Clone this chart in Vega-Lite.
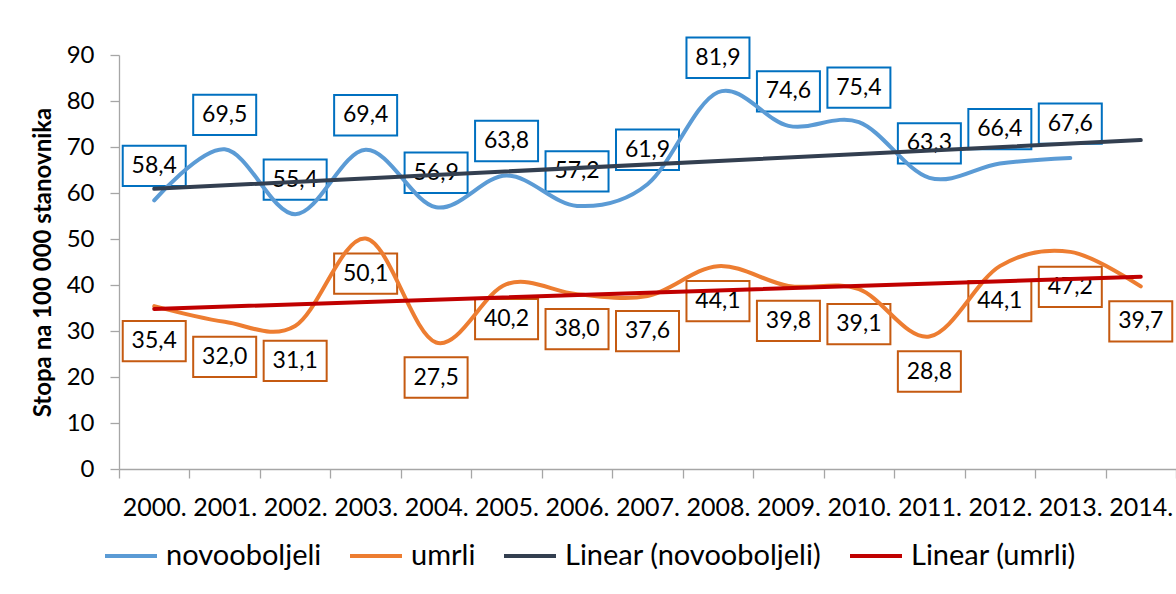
{
  "$schema": "https://vega.github.io/schema/vega-lite/v6.json",
  "width": 1057,
  "height": 414,
  "autosize": {"type": "none"},
  "padding": {"left": 119, "top": 55, "right": 0, "bottom": 125},
  "background": "white",
  "config": {
    "view": {"stroke": null},
    "font": "Lato",
    "locale": {"number": {"decimal": ",", "thousands": ".", "grouping": [3], "currency": ["", " €"]}}
  },
  "data": {
    "values": [
      {"year": "2000.", "series": "novooboljeli", "value": 58.4},
      {"year": "2001.", "series": "novooboljeli", "value": 69.5},
      {"year": "2002.", "series": "novooboljeli", "value": 55.4},
      {"year": "2003.", "series": "novooboljeli", "value": 69.4},
      {"year": "2004.", "series": "novooboljeli", "value": 56.9},
      {"year": "2005.", "series": "novooboljeli", "value": 63.8},
      {"year": "2006.", "series": "novooboljeli", "value": 57.2},
      {"year": "2007.", "series": "novooboljeli", "value": 61.9},
      {"year": "2008.", "series": "novooboljeli", "value": 81.9},
      {"year": "2009.", "series": "novooboljeli", "value": 74.6},
      {"year": "2010.", "series": "novooboljeli", "value": 75.4},
      {"year": "2011.", "series": "novooboljeli", "value": 63.3},
      {"year": "2012.", "series": "novooboljeli", "value": 66.4},
      {"year": "2013.", "series": "novooboljeli", "value": 67.6},
      {"year": "2000.", "series": "umrli", "value": 35.4},
      {"year": "2001.", "series": "umrli", "value": 32.0},
      {"year": "2002.", "series": "umrli", "value": 31.1},
      {"year": "2003.", "series": "umrli", "value": 50.1},
      {"year": "2004.", "series": "umrli", "value": 27.5},
      {"year": "2005.", "series": "umrli", "value": 40.2},
      {"year": "2006.", "series": "umrli", "value": 38.0},
      {"year": "2007.", "series": "umrli", "value": 37.6},
      {"year": "2008.", "series": "umrli", "value": 44.1},
      {"year": "2009.", "series": "umrli", "value": 39.8},
      {"year": "2010.", "series": "umrli", "value": 39.1},
      {"year": "2011.", "series": "umrli", "value": 28.8},
      {"year": "2012.", "series": "umrli", "value": 44.1},
      {"year": "2013.", "series": "umrli", "value": 47.2},
      {"year": "2014.", "series": "umrli", "value": 39.7},
      {"year": "2000.", "series": "Linear (novooboljeli)", "value": 60.9},
      {"year": "2014.", "series": "Linear (novooboljeli)", "value": 71.5},
      {"year": "2000.", "series": "Linear (umrli)", "value": 34.8},
      {"year": "2014.", "series": "Linear (umrli)", "value": 41.8}
    ]
  },
  "encoding": {
    "x": {
      "field": "year", "type": "ordinal", "title": null,
      "scale": {"type": "band", "paddingInner": 0, "paddingOuter": 0},
      "axis": {
        "tickBand": "extent", "labelAngle": 0, "labelFontSize": 25, "labelColor": "#000000",
        "labelPadding": 17, "tickSize": 9, "domainColor": "#A6A6A6", "tickColor": "#A6A6A6",
        "domainWidth": 1.3, "tickWidth": 1.3, "labelFont": "Lato"
      }
    },
    "y": {
      "field": "value", "type": "quantitative",
      "title": "Stopa na 100 000 stanovnika",
      "scale": {"domain": [0, 90], "nice": false, "zero": true},
      "axis": {
        "values": [0, 10, 20, 30, 40, 50, 60, 70, 80, 90], "grid": false,
        "labelFontSize": 24, "labelColor": "#000000", "labelPadding": 16, "tickSize": 9,
        "domainColor": "#A6A6A6", "tickColor": "#A6A6A6", "domainWidth": 1.3, "tickWidth": 1.3,
        "titleFontSize": 24, "titleFontWeight": "bold", "titleColor": "#000000", "titlePadding": 11
      }
    }
  },
  "layer": [
    {
      "transform": [{"filter": "datum.series === 'novooboljeli'"}],
      "mark": {"type": "point", "shape": "M-1,-0.64H1V0.64H-1Z", "size": 3969, "filled": false, "fill": null, "stroke": "#0070C0", "strokeWidth": 2, "opacity": 1, "yOffset": -34.5}
    },
    {
      "transform": [{"filter": "datum.series === 'novooboljeli'"}],
      "mark": {"type": "text", "fontSize": 23, "color": "#000000", "baseline": "middle", "align": "center", "yOffset": -34.5},
      "encoding": {"text": {"field": "value", "type": "quantitative", "format": ".1f"}}
    },
    {
      "transform": [{"filter": "datum.series === 'umrli'"}],
      "mark": {"type": "point", "shape": "M-1,-0.64H1V0.64H-1Z", "size": 3969, "filled": false, "fill": null, "stroke": "#C55A11", "strokeWidth": 2, "opacity": 1, "yOffset": 35}
    },
    {
      "transform": [{"filter": "datum.series === 'umrli'"}],
      "mark": {"type": "text", "fontSize": 23, "color": "#000000", "baseline": "middle", "align": "center", "yOffset": 35},
      "encoding": {"text": {"field": "value", "type": "quantitative", "format": ".1f"}}
    },
    {
      "transform": [{"filter": "datum.series === 'novooboljeli' || datum.series === 'umrli'"}],
      "mark": {"type": "line", "interpolate": "cardinal", "tension": 0, "strokeWidth": 4, "strokeCap": "round"},
      "encoding": {
        "color": {
          "field": "series", "type": "nominal",
          "scale": {"domain": ["novooboljeli", "umrli", "Linear (novooboljeli)", "Linear (umrli)"], "range": ["#5B9BD5", "#ED7D31", "#333F50", "#C00000"]},
          "legend": {
            "orient": "none", "direction": "horizontal", "legendX": -16, "legendY": 473, "title": null,
            "symbolType": "stroke", "symbolSize": 2704, "symbolStrokeWidth": 4,
            "labelFontSize": 29, "labelColor": "#000000", "labelFont": "Lato", "columnPadding": 20, "labelOffset": 7, "labelLimit": 400
          }
        }
      }
    },
    {
      "transform": [{"filter": "datum.series === 'Linear (novooboljeli)' || datum.series === 'Linear (umrli)'"}],
      "mark": {"type": "line", "strokeWidth": 4, "strokeCap": "round"},
      "encoding": {"color": {"field": "series", "type": "nominal"}}
    }
  ]
}
